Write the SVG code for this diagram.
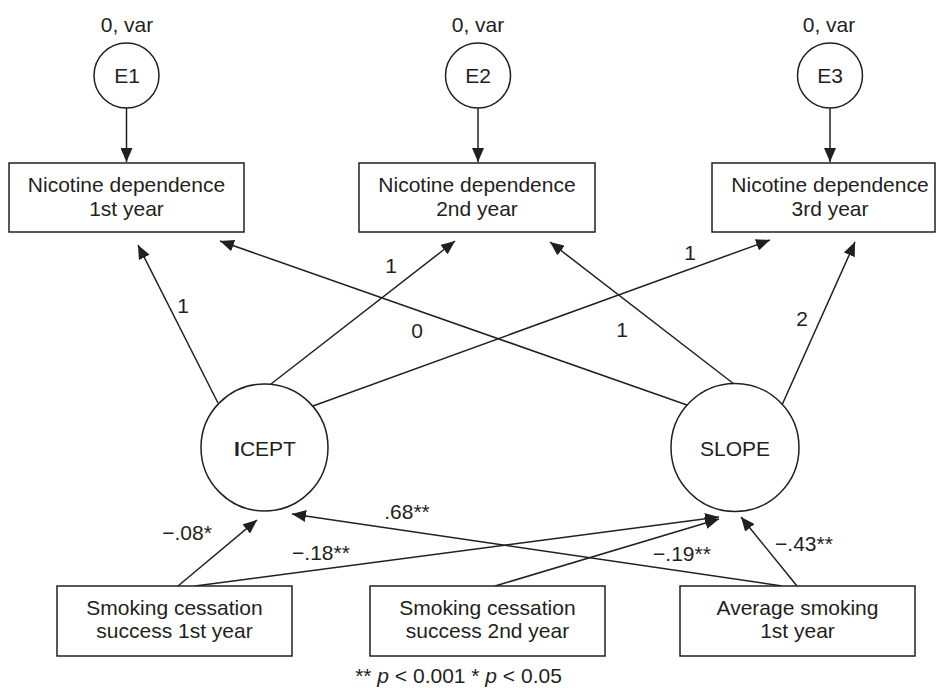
<svg xmlns="http://www.w3.org/2000/svg" width="937" height="688" viewBox="0 0 937 688">
<defs>
<marker id="ah" markerUnits="userSpaceOnUse" markerWidth="14" markerHeight="12" refX="14" refY="6" orient="auto">
<path d="M0,0 L14,6 L0,12 z" fill="#231f20"/>
</marker>
<style>
text{font-family:"Liberation Sans",Arial,sans-serif;font-size:21px;fill:#231f20;text-anchor:middle}
.box,.circ{fill:#fff;stroke:#231f20;stroke-width:1.5}
.conn line{stroke:#231f20;stroke-width:1.5;marker-end:url(#ah)}
</style>
</defs>
<rect width="937" height="688" fill="#fff"/>
<g class="conn" id="connectors">
<line x1="126.5" y1="108" x2="126.5" y2="162"/>
<line x1="478" y1="108" x2="478" y2="162"/>
<line x1="830" y1="108" x2="830" y2="162"/>
<line x1="218" y1="403" x2="138" y2="245"/>
<line x1="271" y1="384" x2="455" y2="241"/>
<line x1="313" y1="406" x2="770" y2="240"/>
<line x1="687" y1="405" x2="220" y2="241"/>
<line x1="734" y1="384" x2="550" y2="242"/>
<line x1="782" y1="405" x2="855" y2="242"/>
<line x1="178" y1="586" x2="257" y2="520"/>
<line x1="195" y1="586" x2="719" y2="517"/>
<line x1="495" y1="586" x2="719" y2="519"/>
<line x1="782" y1="586" x2="292" y2="514"/>
<line x1="797" y1="586" x2="741" y2="517"/>
</g>
<g id="edge-labels">
<text x="183" y="313">1</text>
<text x="391" y="273">1</text>
<text x="417" y="338">0</text>
<text x="622" y="337">1</text>
<text x="690" y="260">1</text>
<text x="802" y="326">2</text>
<text x="187" y="540">−.08*</text>
<text x="321" y="560">−.18**</text>
<text x="407" y="519">.68**</text>
<text x="682" y="561">−.19**</text>
<text x="804" y="551">−.43**</text>
</g>
<g id="E1">
<text x="127" y="32">0, var</text>
<circle class="circ" cx="126.5" cy="75.5" r="32.5"/>
<text x="127" y="83">E1</text>
</g>
<g id="E2">
<text x="478" y="32">0, var</text>
<circle class="circ" cx="478" cy="75.5" r="32.5"/>
<text x="478" y="83">E2</text>
</g>
<g id="E3">
<text x="829" y="32">0, var</text>
<circle class="circ" cx="830" cy="75.5" r="32.5"/>
<text x="830" y="83">E3</text>
</g>
<g id="ND1">
<rect class="box" x="9" y="163" width="235" height="69"/>
<text x="126.5" y="192">Nicotine dependence</text>
<text x="126.5" y="216">1st year</text>
</g>
<g id="ND2">
<rect class="box" x="359" y="163" width="236" height="69"/>
<text x="477" y="192">Nicotine dependence</text>
<text x="477" y="216">2nd year</text>
</g>
<g id="ND3">
<rect class="box" x="712" y="163" width="223" height="69"/>
<text x="830" y="192">Nicotine dependence</text>
<text x="830" y="216">3rd year</text>
</g>
<g id="ICEPT">
<circle class="circ" cx="264.5" cy="447.5" r="63.5"/>
<text x="265" y="456"><tspan font-weight="bold">I</tspan>CEPT</text>
</g>
<g id="SLOPE">
<circle class="circ" cx="735" cy="447.5" r="64"/>
<text x="735" y="456">SLOPE</text>
</g>
<g id="SC1">
<rect class="box" x="57" y="586" width="235" height="70"/>
<text x="174.5" y="615">Smoking cessation</text>
<text x="174.5" y="638">success 1st year</text>
</g>
<g id="SC2">
<rect class="box" x="370" y="586" width="235" height="70"/>
<text x="487.5" y="615">Smoking cessation</text>
<text x="487.5" y="638">success 2nd year</text>
</g>
<g id="AS1">
<rect class="box" x="680" y="586" width="235" height="70"/>
<text x="797.5" y="615">Average smoking</text>
<text x="797.5" y="638">1st year</text>
</g>
<g id="footnote">
<text x="458.5" y="683">** <tspan font-style="italic">p</tspan> &lt; 0.001 * <tspan font-style="italic">p</tspan> &lt; 0.05</text>
</g>
</svg>
